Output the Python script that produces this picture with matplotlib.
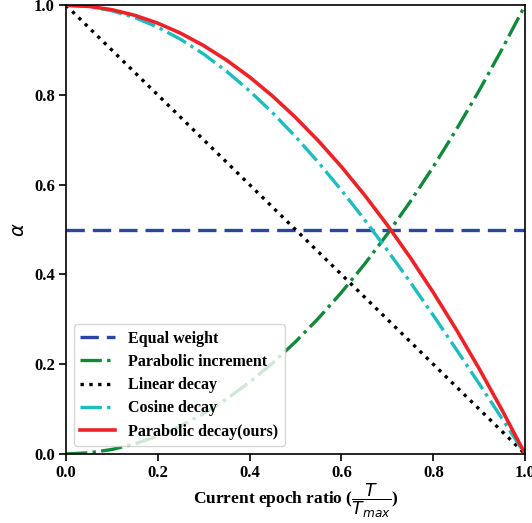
import matplotlib
matplotlib.use("Agg")
import matplotlib.pyplot as plt

# epoch ratio samples and the five weighting curves
ratio = [0.0, 0.05, 0.1, 0.15, 0.2, 0.25, 0.3, 0.35, 0.4, 0.45, 0.5,
         0.55, 0.6, 0.65, 0.7, 0.75, 0.8, 0.85, 0.9, 0.95, 1.0]
equal_weight = [0.5] * 21
parabolic_inc = [0.0, 0.0025, 0.01, 0.0225, 0.04, 0.0625, 0.09, 0.1225, 0.16, 0.2025, 0.25,
                 0.3025, 0.36, 0.4225, 0.49, 0.5625, 0.64, 0.7225, 0.81, 0.9025, 1.0]
linear_decay = [1.0, 0.95, 0.9, 0.85, 0.8, 0.75, 0.7, 0.65, 0.6, 0.55, 0.5,
                0.45, 0.4, 0.35, 0.3, 0.25, 0.2, 0.15, 0.1, 0.05, 0.0]
cosine_decay = [1.0, 0.9969, 0.9877, 0.9724, 0.9511, 0.9239, 0.891, 0.8526, 0.809, 0.7604, 0.7071,
                0.6494, 0.5878, 0.5225, 0.454, 0.3827, 0.309, 0.2334, 0.1564, 0.0785, 0.0]
parabolic_dec = [1.0, 0.9975, 0.99, 0.9775, 0.96, 0.9375, 0.91, 0.8775, 0.84, 0.7975, 0.75,
                 0.6975, 0.64, 0.5775, 0.51, 0.4375, 0.36, 0.2775, 0.19, 0.0975, 0.0]
labels = ["Equal weight", "Parabolic increment", "Linear decay", "Cosine decay", "Parabolic decay(ours)"]
ticks = [0.0, 0.2, 0.4, 0.6, 0.8, 1.0]

plt.rcParams['font.family'] = ['Liberation Serif', 'DejaVu Serif']
plt.rcParams['mathtext.fontset'] = 'custom'
plt.rcParams['mathtext.it'] = 'DejaVu Sans:style=italic:weight=normal'
plt.rcParams['mathtext.rm'] = 'DejaVu Sans:weight=normal'

fig = plt.figure(figsize=(5.32, 5.23), dpi=100)
ax = fig.add_axes([0.124, 0.132, 0.863, 0.858])

lw = 2.4
ax.plot(ratio, equal_weight, color="#2b45a0", lw=lw, dashes=(5.5, 2.4), label=labels[0])
ax.plot(ratio, parabolic_inc, color="#108a3a", lw=lw, linestyle="-.", label=labels[1])
ax.plot(ratio, linear_decay, color="black", lw=lw, linestyle=":", label=labels[2])
ax.plot(ratio, cosine_decay, color="#1cbcbf", lw=lw, linestyle="-.", label=labels[3])
ax.plot(ratio, parabolic_dec, color="#ee2226", lw=2.6, linestyle="-", label=labels[4])

ax.set_xlim(0, 1)
ax.set_ylim(0, 1)
ax.set_xticks(ticks)
ax.set_yticks(ticks)
ax.set_xticklabels([f"{t:.1f}" for t in ticks], fontsize=12, fontweight="bold")
ax.set_yticklabels([f"{t:.1f}" for t in ticks], fontsize=12, fontweight="bold")
ax.tick_params(length=5, width=1.2, pad=3)
for s in ax.spines.values():
    s.set_linewidth(1.2)

ax.set_xlabel(r"Current epoch ratio ($\dfrac{T}{T_{max}}$)", fontsize=12.5, fontweight="bold", labelpad=0)
ax.set_ylabel(r"$\alpha$", fontsize=14)

ax.legend(loc="lower left", prop={"family": "Liberation Serif", "weight": "bold", "size": 11.5},
          borderaxespad=0.5, handlelength=2.2, labelspacing=0.45)

fig.savefig("out.png", dpi=100)
